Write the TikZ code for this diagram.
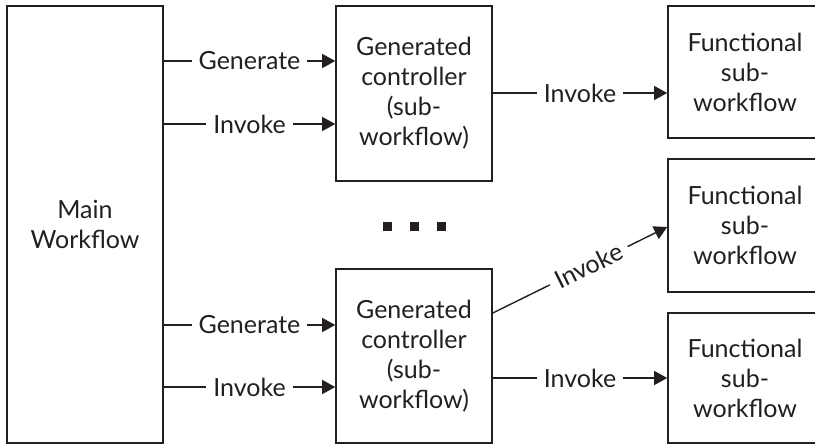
\documentclass[tikz,border=0pt]{standalone}
\usepackage{fontspec}
\setmainfont{Lato}
\usetikzlibrary{arrows.meta}
\definecolor{ink}{HTML}{231F20}
\begin{document}
\begin{tikzpicture}[x=1pt,y=-1pt,
  box/.style={draw=ink, line width=1.6pt, minimum width=156pt, align=center, inner sep=0pt, text=ink, font=\fontsize{25}{30}\selectfont},
  conn/.style={draw=ink, line width=1.4pt, -{Triangle[length=13pt,width=14pt]}},
  lbl/.style={fill=white, inner xsep=7pt, inner ysep=3pt, text=ink, font=\fontsize{25}{28}\selectfont},
  dotsq/.style={fill=ink, minimum size=9pt, inner sep=0pt}]
\useasboundingbox (0,0) rectangle (815,445);
\clip (0,0) rectangle (815,445);
\node[box, minimum height=437pt] (main) at (85,224.5) {Main\\Workflow};
\node[box, minimum height=175pt] (ctrl1) at (414,93.5) {Generated\\controller\\(sub-\\workflow)};
\node[box, minimum height=174pt] (ctrl2) at (414,356) {Generated\\controller\\(sub-\\workflow)};
\node[box, minimum width=154pt, minimum height=132pt] (f1) at (745,72) {Functional\\sub-\\workflow};
\node[box, minimum width=154pt, minimum height=133pt] (f2) at (745,225.5) {Functional\\sub-\\workflow};
\node[box, minimum width=154pt, minimum height=130pt] (f3) at (745,378) {Functional\\sub-\\workflow};
\node[dotsq] (d1) at (387,226) {};
\node[dotsq] (d2) at (414,226) {};
\node[dotsq] (d3) at (441,226) {};
\coordinate (yg1) at (0,61);
\coordinate (yi1) at (0,124);
\coordinate (yg2) at (0,325);
\coordinate (yi2) at (0,387);
\coordinate (yf1) at (0,93);
\coordinate (yf3) at (0,378);
\coordinate (yd0) at (0,313);
\coordinate (yd1) at (0,227);
\draw[conn] (main.east |- yg1) -- (ctrl1.west |- yg1) node[lbl, midway] {Generate};
\draw[conn] (main.east |- yi1) -- (ctrl1.west |- yi1) node[lbl, midway] {Invoke};
\draw[conn] (main.east |- yg2) -- (ctrl2.west |- yg2) node[lbl, midway] {Generate};
\draw[conn] (main.east |- yi2) -- (ctrl2.west |- yi2) node[lbl, midway] {Invoke};
\draw[conn] (ctrl1.east |- yf1) -- (f1.west |- yf1) node[lbl, midway] {Invoke};
\draw[conn] (ctrl2.east |- yf3) -- (f3.west |- yf3) node[lbl, midway] {Invoke};
\draw[conn] (ctrl2.east |- yd0) -- (f2.west |- yd1) node[lbl, pos=0.55, sloped] {Invoke};
\end{tikzpicture}
\end{document}
